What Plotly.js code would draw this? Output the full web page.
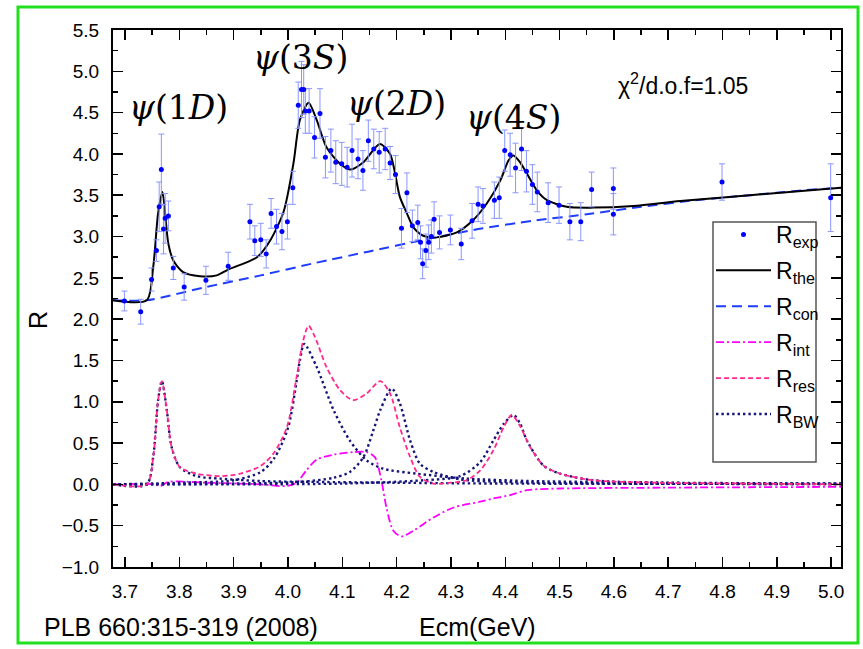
<!DOCTYPE html>
<html>
<head>
<meta charset="utf-8">
<script src="https://cdn.plot.ly/plotly-3.0.1.min.js"></script>
<style>html,body{margin:0;padding:0;background:#fff;}#chart{width:863px;height:649px;}</style>
</head>
<body>
<div id="chart"></div>
<script>
// ---- experimental points R_exp ----
const expX = [3.699,3.729,3.749,3.758,3.763,3.767,3.771,3.774,3.780,3.789,3.809,3.849,3.890,3.930,3.939,3.950,3.960,3.969,3.979,3.989,3.999,4.009,4.019,4.025,4.029,4.032,4.039,4.049,4.059,4.069,4.079,4.088,4.099,4.109,4.118,4.129,4.138,4.148,4.158,4.168,4.179,4.188,4.198,4.209,4.219,4.229,4.239,4.244,4.248,4.254,4.259,4.264,4.269,4.279,4.299,4.319,4.339,4.350,4.359,4.380,4.389,4.399,4.409,4.419,4.430,4.439,4.450,4.459,4.479,4.499,4.519,4.539,4.559,4.599,4.599,4.799,4.999];
const expY = [2.22,2.09,2.48,2.83,3.36,3.81,3.09,3.22,3.25,2.62,2.39,2.47,2.64,3.18,2.95,2.96,2.79,3.28,3.12,3.06,3.18,3.59,4.59,4.78,4.78,4.52,4.52,4.20,4.49,3.96,4.04,3.90,3.88,3.84,4.04,3.94,3.80,4.16,4.06,4.02,4.06,3.89,3.75,3.10,3.53,3.13,3.17,2.93,2.67,2.83,2.93,3.00,3.21,3.05,3.08,2.91,3.19,3.39,3.37,3.44,3.47,4.04,3.99,3.83,4.06,3.79,3.63,3.54,3.41,3.38,3.18,3.18,3.57,3.58,3.27,3.66,3.47];
const expErr = [0.12,0.15,0.14,0.13,0.30,0.43,0.30,0.30,0.18,0.14,0.16,0.17,0.17,0.21,0.18,0.20,0.17,0.18,0.21,0.22,0.21,0.20,0.28,0.34,0.30,0.27,0.27,0.25,0.30,0.25,0.26,0.26,0.26,0.24,0.32,0.24,0.24,0.25,0.24,0.25,0.25,0.20,0.23,0.24,0.24,0.19,0.21,0.20,0.18,0.20,0.21,0.20,0.21,0.20,0.18,0.19,0.21,0.21,0.21,0.22,0.25,0.25,0.26,0.30,0.26,0.25,0.24,0.24,0.24,0.22,0.22,0.23,0.21,0.25,0.25,0.22,0.41];

// ---- R_the (total fit) ----
const theX = [3.678,3.740,3.752,3.761,3.769,3.775,3.780,3.789,3.807,3.838,3.869,3.890,3.943,3.967,3.992,4.010,4.022,4.038,4.053,4.071,4.096,4.114,4.139,4.169,4.188,4.206,4.219,4.231,4.249,4.274,4.311,4.341,4.366,4.391,4.406,4.415,4.427,4.440,4.458,4.477,4.513,4.562,4.636,4.722,4.850,5.018];
const theY = [2.228,2.228,2.63,3.28,3.54,3.20,2.91,2.71,2.57,2.52,2.53,2.60,2.75,2.95,3.30,3.88,4.41,4.62,4.41,4.08,3.88,3.81,3.90,4.12,4.00,3.48,3.28,3.11,3.01,2.99,3.05,3.20,3.40,3.68,3.92,3.98,3.90,3.76,3.56,3.44,3.36,3.35,3.37,3.43,3.50,3.59];

// ---- R_con (continuum) ----
const conX = [3.678,3.740,3.850,3.950,4.050,4.150,4.250,4.350,4.450,4.550,4.650,4.750,4.850,4.950,5.018];
const conY = [2.228,2.228,2.39,2.53,2.68,2.82,2.96,3.09,3.19,3.27,3.36,3.44,3.50,3.56,3.59];

// ---- R_int (interference) ----
const intX = [3.678,3.755,3.765,3.780,3.850,3.950,3.985,3.998,4.016,4.034,4.053,4.084,4.120,4.145,4.160,4.172,4.181,4.194,4.209,4.231,4.268,4.305,4.354,4.378,4.409,4.440,4.501,4.685,5.018];
const intY = [0,0,-0.02,0.03,0.02,0.0,-0.02,-0.02,0.02,0.17,0.30,0.36,0.39,0.39,0.33,0.05,-0.27,-0.56,-0.63,-0.56,-0.40,-0.28,-0.21,-0.17,-0.13,-0.07,-0.05,-0.04,-0.03];

// ---- R_res (resonances) ----
const resX = [3.678,3.740,3.752,3.761,3.768,3.777,3.786,3.801,3.832,3.875,3.912,3.949,3.973,3.998,4.016,4.028,4.038,4.050,4.071,4.096,4.120,4.145,4.170,4.188,4.206,4.225,4.243,4.268,4.299,4.329,4.354,4.378,4.397,4.412,4.427,4.446,4.470,4.501,4.562,4.685,4.850,5.018];
const resY = [0,0,0.33,1.02,1.25,0.90,0.45,0.21,0.13,0.10,0.13,0.22,0.37,0.69,1.30,1.74,1.92,1.78,1.42,1.14,1.02,1.10,1.25,1.10,0.69,0.33,0.09,0.01,0.02,0.05,0.17,0.41,0.69,0.84,0.71,0.45,0.23,0.13,0.05,0.02,0.01,0.0];

// ---- R_BW (individual Breit-Wigner terms) ----
const bw1X = [3.678,3.740,3.752,3.761,3.768,3.777,3.786,3.801,3.832,3.875,3.950,4.050,4.200,4.400,5.018];
const bw1Y = [0,0,0.33,1.02,1.25,0.90,0.45,0.21,0.10,0.07,0.04,0.03,0.02,0.01,0.005];
const bw2X = [3.678,3.800,3.900,3.950,3.975,4.000,4.016,4.022,4.030,4.053,4.084,4.114,4.145,4.175,4.237,4.329,4.450,4.700,5.018];
const bw2Y = [0,0.02,0.05,0.15,0.32,0.68,1.25,1.50,1.70,1.42,0.90,0.53,0.29,0.19,0.13,0.07,0.04,0.02,0.01];
const bw3X = [3.678,3.900,4.022,4.084,4.114,4.139,4.157,4.170,4.191,4.206,4.225,4.243,4.268,4.317,4.400,4.600,5.018];
const bw3Y = [0,0.01,0.03,0.08,0.15,0.33,0.65,0.90,1.16,0.98,0.53,0.25,0.15,0.06,0.03,0.01,0.005];
const bw4X = [3.678,4.100,4.250,4.317,4.354,4.378,4.397,4.415,4.427,4.440,4.470,4.501,4.562,4.685,5.018];
const bw4Y = [0,0.01,0.05,0.10,0.27,0.53,0.73,0.84,0.74,0.53,0.23,0.13,0.05,0.02,0.005];

// ---- labels ----
const legendNames = ['R<sub>exp</sub>','R<sub>the</sub>','R<sub>con</sub>','R<sub>int</sub>','R<sub>res</sub>','R<sub>BW</sub>'];
const peakLabels = ['<i>ψ</i>(1<i>D</i>)','<i>ψ</i>(3<i>S</i>)','<i>ψ</i>(2<i>D</i>)','<i>ψ</i>(4<i>S</i>)'];

const PW = 728, PH = 537, L = 113, T = 30;
const px = v => (v - L) / PW;
const py = v => (T + PH - v) / PH;

const font = 'Liberation Sans, Arial, Helvetica, sans-serif';
const bwStyle = {color:'#14147a', width:2.4, dash:'2.4px,3px', shape:'spline', smoothing:0.8};

const traces = [
  {x:conX, y:conY, mode:'lines', name:legendNames[2], legendgroup:'g3', legendrank:3,
   line:{color:'#1f3cff', width:2, dash:'10px,6px', shape:'spline', smoothing:0.6}},
  {x:intX, y:intY, mode:'lines', name:legendNames[3], legendgroup:'g4', legendrank:4,
   line:{color:'#ff00ff', width:1.8, dash:'8px,3px,2px,3px', shape:'spline', smoothing:0.8}},
  {x:bw1X, y:bw1Y, mode:'lines', name:legendNames[5], legendgroup:'g6', legendrank:6, line:bwStyle},
  {x:bw2X, y:bw2Y, mode:'lines', showlegend:false, legendgroup:'g6', line:bwStyle},
  {x:bw3X, y:bw3Y, mode:'lines', showlegend:false, legendgroup:'g6', line:bwStyle},
  {x:bw4X, y:bw4Y, mode:'lines', showlegend:false, legendgroup:'g6', line:bwStyle},
  {x:resX, y:resY, mode:'lines', name:legendNames[4], legendgroup:'g5', legendrank:5,
   line:{color:'#ff2a8c', width:1.8, dash:'5px,3px', shape:'spline', smoothing:0.8}},
  {x:theX, y:theY, mode:'lines', name:legendNames[1], legendgroup:'g2', legendrank:2,
   line:{color:'#000000', width:2, shape:'spline', smoothing:0.75}},
  {x:expX, y:expY, mode:'markers', name:legendNames[0], legendgroup:'g1', legendrank:1,
   marker:{color:'#0000ff', size:5},
   error_y:{type:'data', array:expErr, visible:true, color:'#8a96ff', thickness:1, width:3}}
];

const common = {xref:'paper', yref:'paper', showarrow:false, xanchor:'center', yanchor:'middle'};
const annotations = [
  {text:peakLabels[0], x:px(178), y:py(108)},
  {text:peakLabels[1], x:px(300), y:py(58)},
  {text:peakLabels[2], x:px(396), y:py(104)},
  {text:peakLabels[3], x:px(513), y:py(117)}
].map(a => Object.assign({}, common, a, {font:{family:'DejaVu Serif, serif', size:33, color:'#000'}}));

annotations.push(
  Object.assign({}, common, {text:'χ<sup>2</sup>/d.o.f=1.05', x:px(683), y:py(84),
   font:{family:font, size:23, color:'#000'}}),
  Object.assign({}, common, {text:'R', x:px(38), y:py(320), textangle:-90,
   font:{family:font, size:25, color:'#000'}}),
  Object.assign({}, common, {text:'Ecm(GeV)', x:px(477), y:py(627),
   font:{family:font, size:25, color:'#000'}}),
  Object.assign({}, common, {text:'PLB 660:315-319 (2008)', x:px(42), y:py(627), xanchor:'left',
   font:{family:font, size:25, color:'#000'}})
);

const layout = {
  width:863, height:649,
  margin:{l:L, r:863-L-PW, t:T, b:649-T-PH, pad:0},
  paper_bgcolor:'#ffffff', plot_bgcolor:'#ffffff',
  font:{family:font, color:'#000'},
  xaxis:{range:[3.678,5.018], tick0:3.7, dtick:0.1, tickformat:'.1f',
    ticks:'inside', ticklen:10, tickwidth:1.5, tickcolor:'#000',
    showline:true, linecolor:'#000', linewidth:2, mirror:'ticks',
    showgrid:false, zeroline:false, tickfont:{family:font, size:19},
    ticklabelstandoff:6,
    minor:{dtick:0.05, tick0:3.7, ticks:'inside', ticklen:5, tickwidth:1.5, tickcolor:'#000', showgrid:false}},
  yaxis:{range:[-1.0,5.5], tick0:0, dtick:0.5, tickformat:'.1f',
    ticks:'inside', ticklen:10, tickwidth:1.5, tickcolor:'#000',
    showline:true, linecolor:'#000', linewidth:2, mirror:'ticks',
    showgrid:false, zeroline:false, tickfont:{family:font, size:19},
    ticklabelstandoff:8,
    minor:{dtick:0.25, tick0:0, ticks:'inside', ticklen:5, tickwidth:1.5, tickcolor:'#000', showgrid:false}},
  showlegend:true,
  legend:{x:px(711), y:py(213), xanchor:'left', yanchor:'top',
    bgcolor:'rgba(255,255,255,0)', borderwidth:0,
    font:{family:font, size:23, color:'#000'},
    traceorder:'grouped', tracegroupgap:3, itemwidth:55},
  annotations:annotations,
  shapes:[
    {type:'rect', xref:'paper', yref:'paper', x0:px(713), x1:px(816), y0:py(462), y1:py(222),
     line:{color:'#555', width:1.5}, fillcolor:'rgba(0,0,0,0)', layer:'above'},
    {type:'rect', xref:'paper', yref:'paper', x0:px(18), x1:px(858), y0:py(643), y1:py(7),
     line:{color:'#22e01e', width:3}, fillcolor:'rgba(0,0,0,0)', layer:'above'}
  ]
};

Plotly.newPlot('chart', traces, layout, {displayModeBar:false, staticPlot:true});
</script>
</body>
</html>
